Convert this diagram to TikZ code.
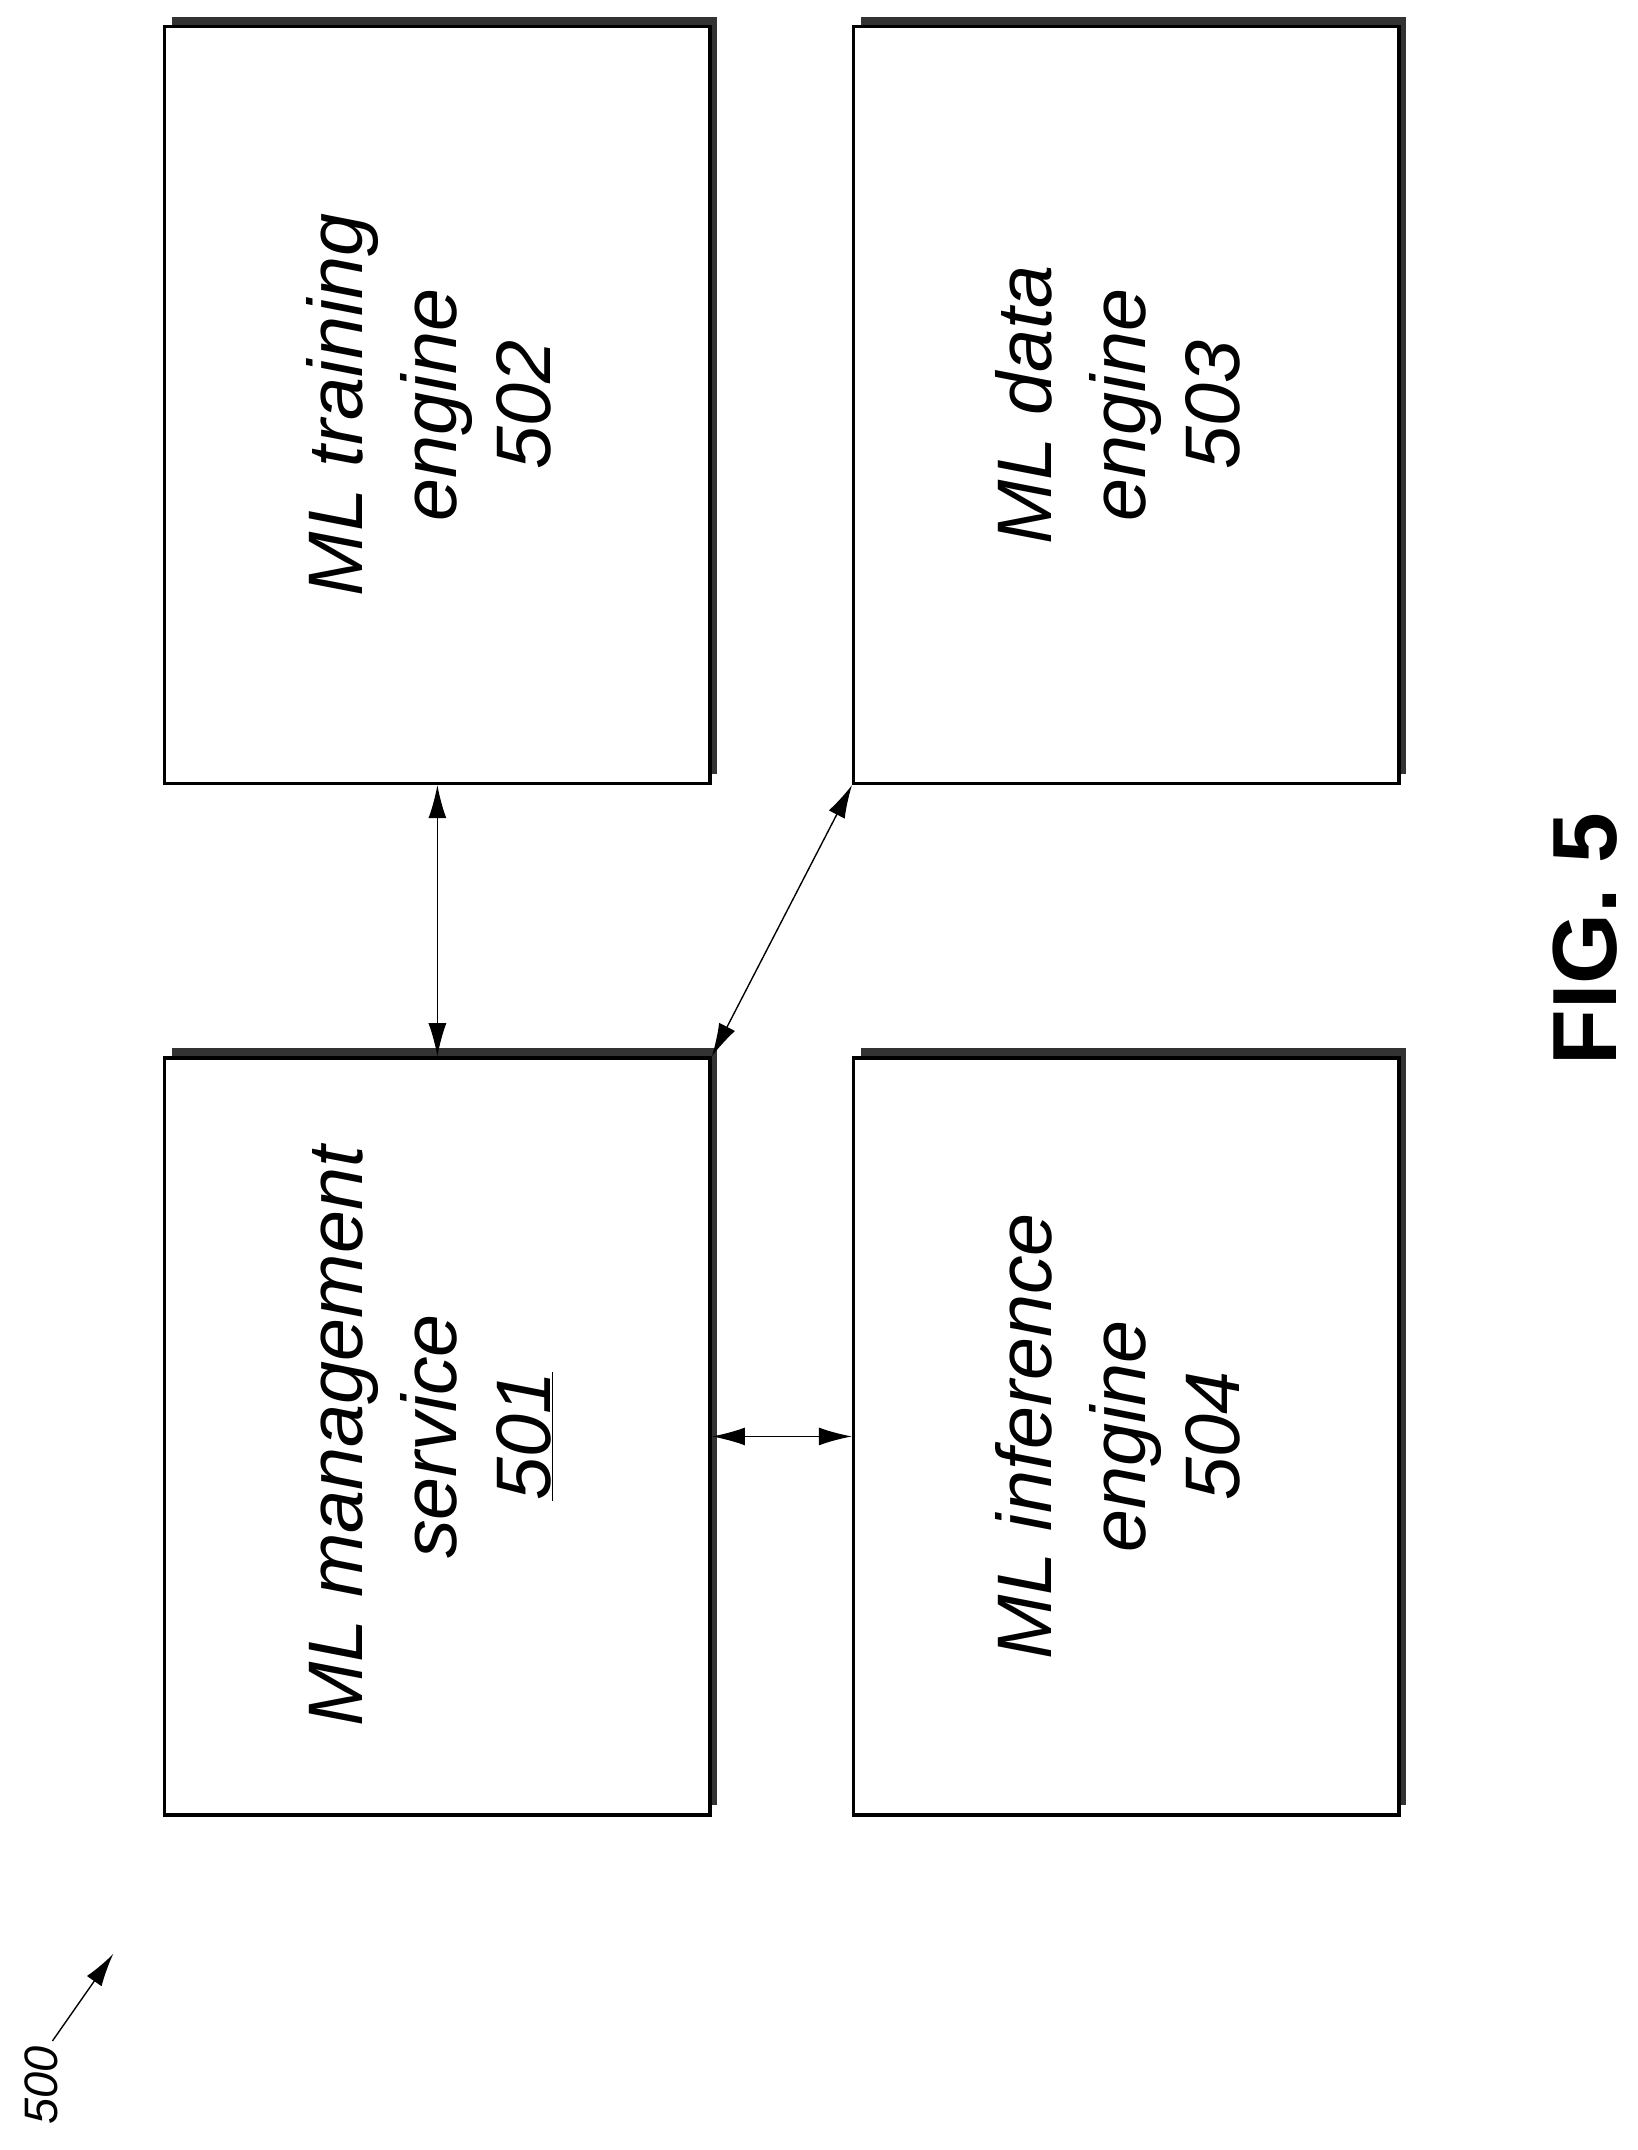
\documentclass[tikz,border=0pt]{standalone}
\usepackage{fontspec}
\setmainfont{Liberation Sans}
\usetikzlibrary{arrows.meta}
\begin{document}
\begin{tikzpicture}[x=1pt,y=-1pt,
 box/.style={draw,line width=2.5pt,fill=white,minimum width=395pt,minimum height=548pt,anchor=north west,inner sep=0pt,
   font=\fontsize{56}{68}\selectfont\itshape,align=center},
 shadow/.style={fill=black!80,minimum width=395pt,minimum height=548pt,anchor=north west,inner sep=0pt},
 arr/.style={{Latex[length=24pt,width=13pt]}-{Latex[length=24pt,width=13pt]},line width=1pt}]
\useasboundingbox (0,0) rectangle (1186,1557);
\foreach \x/\y in {118/18,617/18,118/765,617/765}{\node[shadow] at (\x+6,\y-6) {};}
\node[box] (b502) at (118,18) {\rotatebox{90}{\begin{tabular}{c}ML training\\engine\\502\end{tabular}}};
\node[box] (b503) at (617,18) {\rotatebox{90}{\begin{tabular}{c}ML data\\engine\\503\end{tabular}}};
\node[box] (b501) at (118,765) {\rotatebox{90}{\begin{tabular}{c}ML management\\service\\\underline{501}\end{tabular}}};
\node[box] (b504) at (617,765) {\rotatebox{90}{\begin{tabular}{c}ML inference\\engine\\504\end{tabular}}};
\draw[arr] (b502.south) -- (b501.north);
\draw[arr] (b503.south west) -- (b501.north east);
\draw[arr] (b501.east) -- (b504.west);
\node[rotate=90,font=\fontsize{34}{40}\selectfont\itshape] (l500) at (30,1510) {500};
\coordinate (t500) at (82,1415);
\draw[-{Latex[length=24pt,width=13pt]},line width=1pt] (38,1478) -- (t500);
\node[rotate=90,font=\fontsize{66}{72}\selectfont\bfseries] (fig) at (1148,680) {FIG. 5};
\end{tikzpicture}
\end{document}
